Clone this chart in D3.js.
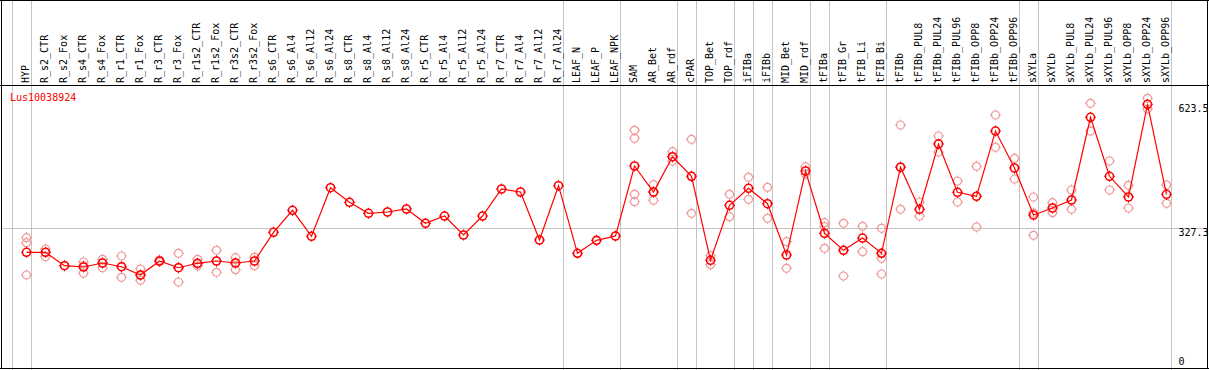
<!DOCTYPE html>
<html><head><meta charset="utf-8">
<script src="https://cdn.jsdelivr.net/npm/d3@7"></script>
<style>body{margin:0;background:#fff}svg{display:block}text{font-family:"DejaVu Sans Mono",monospace;font-size:10px}</style>
</head><body><svg id="c" width="1209" height="370"></svg>
<script>
const title = "Lus10038924";
const categories = ["HYP","R_s2_CTR","R_s2_Fox","R_s4_CTR","R_s4_Fox","R_r1_CTR","R_r1_Fox","R_r3_CTR","R_r3_Fox","R_r1s2_CTR","R_r1s2_Fox","R_r3s2_CTR","R_r3s2_Fox","R_s6_CTR","R_s6_Al4","R_s6_Al12","R_s6_Al24","R_s8_CTR","R_s8_Al4","R_s8_Al12","R_s8_Al24","R_r5_CTR","R_r5_Al4","R_r5_Al12","R_r5_Al24","R_r7_CTR","R_r7_Al4","R_r7_Al12","R_r7_Al24","LEAF_N","LEAF_P","LEAF_NPK","SAM","AR_Bet","AR_rdf","cPAR","TOP_Bet","TOP_rdf","iFIBa","iFIBb","MID_Bet","MID_rdf","tFIBa","tFIB_Gr","tFIB_Li","tFIB_Bi","tFIBb","tFIBb_PUL8","tFIBb_PUL24","tFIBb_PUL96","tFIBb_OPP8","tFIBb_OPP24","tFIBb_OPP96","sXYLa","sXYLb","sXYLb_PUL8","sXYLb_PUL24","sXYLb_PUL96","sXYLb_OPP8","sXYLb_OPP24","sXYLb_OPP96"];
const means = [269.7,269.7,237.6,234.5,244.1,235.2,215.4,248.9,232.8,243.4,248.9,244.1,248.9,317.5,370.1,307.9,424.1,389.2,362.9,366.0,373.2,339.0,356.4,311.0,356.4,421.0,413.8,299.1,428.9,267.3,298.3,308.6,476.0,413.8,498.2,451.4,250.5,382.0,422.7,385.8,263.2,464.0,315.1,274.4,303.8,267.3,473.1,372.5,528.6,413.1,403.5,559.6,471.2,358.8,375.6,394.7,592.4,451.4,401.9,623.5,408.3];
const replicates = [
 [304.6,292.6,215.4],[277.6,269.7,259.1],[237.6],[246.5,237.6,219.5],[252.9,244.1,232.8],[260.8,235.2,209.9],[229.7,215.4,202.7],[251,249,247],[267.3,232.8,198.7],[252.9,241.7,236.9],[274.4,248.9,221.8],[256.8,244.1,228.1],[257.7,248.9,237.6],
 [],[],[],[],[],[],[],[],[],[],[],[],[],[],[],[],[],[],[],
 [561.3,542.2,408.3,390.6],[431.3,413.8,394.0],[510.2,497.5,487.2],[539.8,451.4,362.9],[261.5,240.0],[408.3,354.8],[449.0,396.4],[425.1,350.9],[295.0,231.4],[474.3,456.8],[340.4,330.9,279.2],[339.0,274.4,213.0],[331.8,271.1],[327.0,255.3,217.8],
 [574.0,473.1,372.5],[389.9,356.4],[547.7,509.4],[440.1,389.9],[475.3,403.5,330.1],[597.9,520.7],[494.4,444.9],[401.9,363.6,310.3],[388.2,364.3],[418.6,372.5],[625.9,559.6],[487.9,418.6],[429.8,375.6],[637.8,612.2],[430.6,386.8]
];
const groupEnds = [-1,0,28,31,34,35,37,38,39,41,42,45,52,53,60];
const yTicks = [623.5,327.3,0];

const W=1209,H=370;
const svg=d3.select("#c");
const x=d3.scaleLinear().domain([0,categories.length-1]).range([26.5,1166.5]);
const y=d3.scaleLinear().domain([0,623.5]).range([365.1,104.3]);

// vertical group lines
svg.append("g").selectAll("line").data(groupEnds).join("line")
 .attr("x1",d=>Math.round(x(d)+4)+0.5).attr("x2",d=>Math.round(x(d)+4)+0.5)
 .attr("y1",0).attr("y2",H).attr("stroke","#c4c4c4").attr("stroke-width",1);
// horizontal grid at middle tick
svg.append("line").attr("x1",1).attr("x2",1208).attr("y1",Math.round(y(327.3))+0.5).attr("y2",Math.round(y(327.3))+0.5)
 .attr("stroke","#c4c4c4");

// category labels
svg.append("g").selectAll("text").data(categories).join("text")
 .attr("transform",(d,i)=>`translate(${x(i)+2},83) rotate(-90)`)
 .attr("fill","#000").text(d=>d);

// right labels
svg.append("g").selectAll("text").data(yTicks).join("text")
 .attr("x",1178.5)
 .attr("y",d=> d===0 ? y(d) : y(d)+7.4)
 .attr("fill","#000").text(d=>d);

// title
svg.append("text").attr("x",10).attr("y",100.5).attr("fill","#ff0000").text(title);

function marker(g,color,sw,r){
  g.append("circle").attr("r",r).attr("fill","none").attr("stroke",color).attr("stroke-width",sw);
  g.append("path").attr("d",`M0,${-r-1.5}V${-r}M0,${r}V${r+1.5}M${-r-1.5},0H${-r}M${r},0H${r+1.5}`)
   .attr("stroke",color).attr("stroke-width",1);
}
// replicates
const repData=[];
replicates.forEach((arr,i)=>arr.forEach(v=>repData.push({i,v})));
svg.append("g").selectAll("g").data(repData).join("g")
 .attr("transform",d=>`translate(${x(d.i)},${y(d.v)})`)
 .each(function(){marker(d3.select(this),"#f09a9a",1.2,4);});
// line
svg.append("path").datum(means).attr("fill","none").attr("stroke","#ff0000").attr("stroke-width",1.2)
 .attr("d",d3.line().x((d,i)=>x(i)).y(d=>y(d)));
// means
svg.append("g").selectAll("g").data(means).join("g")
 .attr("transform",(d,i)=>`translate(${x(i)},${y(d)})`)
 .each(function(){marker(d3.select(this),"#ff0000",1.6,4);});

// frame
const fr=svg.append("g").attr("stroke","#000").attr("stroke-width",1);
fr.append("line").attr("x1",0).attr("x2",W).attr("y1",0.5).attr("y2",0.5);
fr.append("line").attr("x1",0).attr("x2",W).attr("y1",85.5).attr("y2",85.5);
fr.append("line").attr("x1",0).attr("x2",W).attr("y1",368.5).attr("y2",368.5);
fr.append("line").attr("x1",1.5).attr("x2",1.5).attr("y1",0).attr("y2",369);
fr.append("line").attr("x1",1207.5).attr("x2",1207.5).attr("y1",0).attr("y2",369);
</script></body></html>
